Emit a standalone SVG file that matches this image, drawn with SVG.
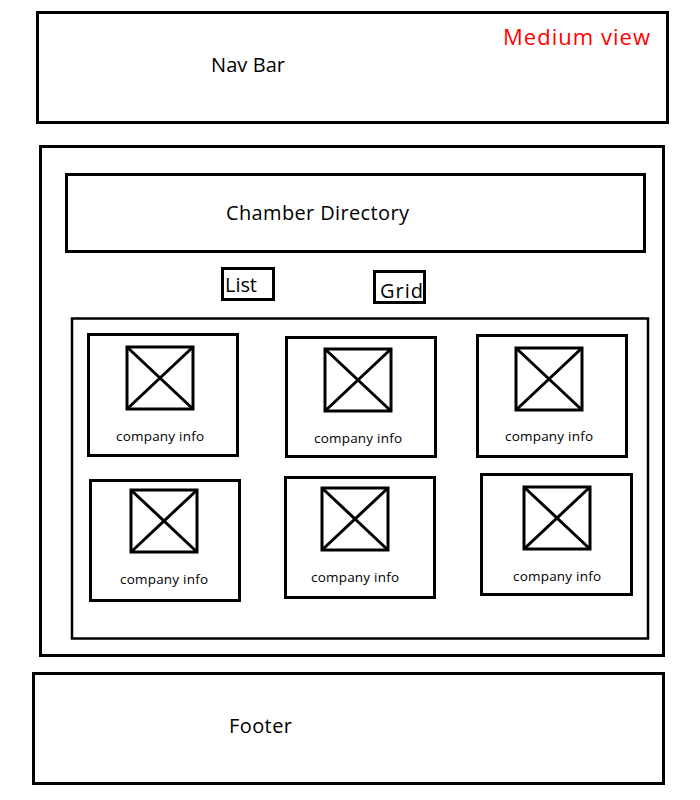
<svg xmlns="http://www.w3.org/2000/svg" width="700" height="800" viewBox="0 0 700 800">
<defs>
<style>
.box{fill:none;stroke:#000;stroke-width:3}
.thin{fill:none;stroke:#000;stroke-width:2.5}
.img{fill:none;stroke:#000;stroke-width:3}
.lbl{font-family:"Open Sans","Liberation Sans",sans-serif;font-size:20px;fill:#000}
.ci{font-family:"Open Sans","Liberation Sans",sans-serif;font-size:13.5px;fill:#000;text-anchor:middle}
.red{font-family:"Open Sans","Liberation Sans",sans-serif;font-size:22px;fill:#ff0000}
</style>
<g id="ph">
<rect class="img" x="0" y="0" width="66" height="62"/>
<line class="img" x1="0" y1="0" x2="66" y2="62"/>
<line class="img" x1="66" y1="0" x2="0" y2="62"/>
</g>
</defs>
<rect width="700" height="800" fill="#fff"/>
<g id="navbar">
<rect class="box" x="37.5" y="12.5" width="630" height="110"/>
<text class="lbl" x="211" y="72" textLength="74">Nav Bar</text>
<text class="red" x="503" y="45" textLength="147">Medium view</text>
</g>
<g id="main">
<rect class="box" x="40.5" y="146.5" width="623" height="509"/>
</g>
<g id="header">
<rect class="box" x="66.5" y="174.5" width="578" height="77"/>
<text class="lbl" x="226" y="220" textLength="183">Chamber Directory</text>
</g>
<g id="list">
<rect class="box" x="222.5" y="268.5" width="51" height="31"/>
<text class="lbl" x="225" y="292" textLength="32">List</text>
</g>
<g id="grid">
<rect class="box" x="374.5" y="271.5" width="50" height="31"/>
<text class="lbl" x="380" y="298" textLength="43">Grid</text>
</g>
<g id="gridarea">
<rect class="thin" x="72" y="318.5" width="576" height="320"/>
</g>
<g id="card1">
<rect class="box" x="88.5" y="334.5" width="149" height="121"/>
<use href="#ph" x="127" y="347"/>
<text class="ci" x="160" y="441" textLength="88">company info</text>
</g>
<g id="card2">
<rect class="box" x="286.5" y="337.5" width="149" height="119"/>
<use href="#ph" x="325" y="349"/>
<text class="ci" x="358" y="443" textLength="88">company info</text>
</g>
<g id="card3">
<rect class="box" x="477.5" y="335.5" width="149" height="121"/>
<use href="#ph" x="516" y="348"/>
<text class="ci" x="549" y="441" textLength="88">company info</text>
</g>
<g id="card4">
<rect class="box" x="90.5" y="480.5" width="149" height="120"/>
<use href="#ph" x="131" y="490"/>
<text class="ci" x="164" y="584" textLength="88">company info</text>
</g>
<g id="card5">
<rect class="box" x="285.5" y="477.5" width="149" height="120"/>
<use href="#ph" x="322" y="488"/>
<text class="ci" x="355" y="582" textLength="88">company info</text>
</g>
<g id="card6">
<rect class="box" x="481.5" y="474.5" width="150" height="120"/>
<use href="#ph" x="524" y="487"/>
<text class="ci" x="557" y="581" textLength="88">company info</text>
</g>
<g id="footer">
<rect class="box" x="33.5" y="673.5" width="630" height="110"/>
<text class="lbl" x="229" y="733" textLength="63">Footer</text>
</g>
<g id="connectors"></g>
</svg>
